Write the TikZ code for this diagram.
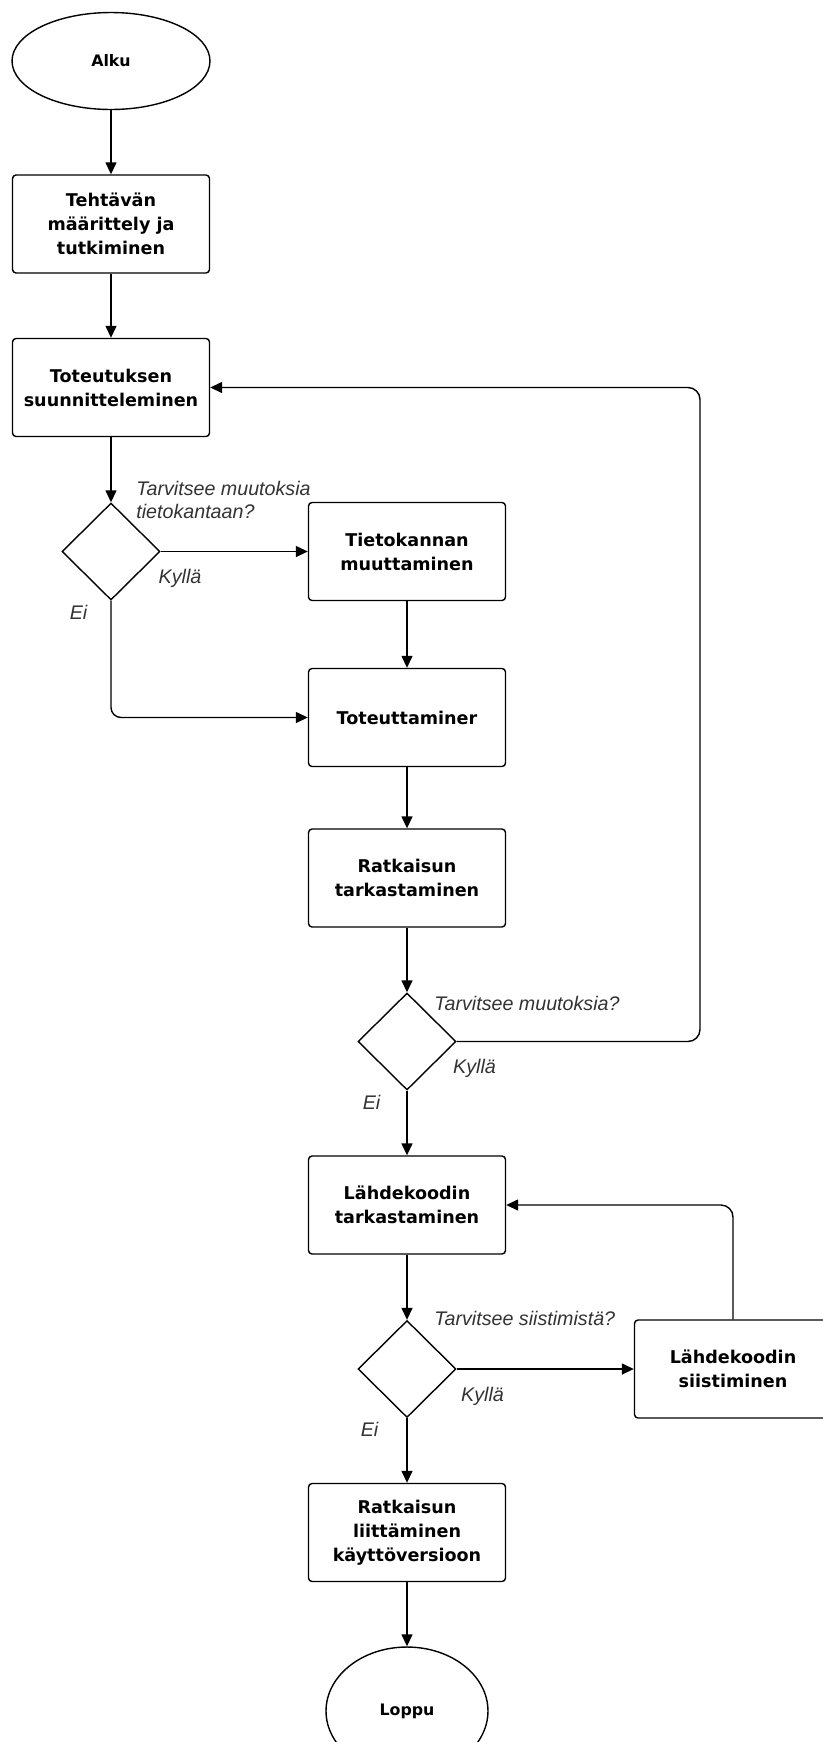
\documentclass[tikz,border=0pt]{standalone}
\usepackage{fontspec}
\usetikzlibrary{shapes.geometric, arrows.meta}
\newfontfamily\boxfont{DejaVu Sans}
\newfontfamily\labfont{Liberation Sans}

\begin{document}
\begin{tikzpicture}[x=0.02cm, y=-0.02cm,
  startnode/.style={draw, line width=0.8pt, ellipse, minimum width=3.96cm, minimum height=1.94cm, inner sep=0pt, font=\boxfont\bfseries\fontsize{9}{12}\selectfont},
  endnode/.style={draw, line width=0.8pt, ellipse, minimum width=3.24cm, minimum height=2.56cm, inner sep=0pt, font=\boxfont\bfseries\fontsize{9}{12}\selectfont},
  proc/.style={draw, line width=0.8pt, rounded corners=2pt, minimum width=3.94cm, minimum height=1.96cm, align=center, inner sep=2pt, font=\boxfont\bfseries\fontsize{10}{13.6}\selectfont},
  decide/.style={draw, line width=0.8pt, diamond, minimum width=1.96cm, minimum height=1.94cm, inner sep=0pt},
  flow/.style={line width=0.8pt, -{Triangle[length=0.24cm, width=0.22cm]}},
  lab/.style={text=black!80, inner sep=0pt, font=\labfont\itshape\fontsize{11.2}{13.6}\selectfont}
]
% Page frame (pixel coordinates)
\path[use as bounding box, fill=white] (0,0) rectangle (822,1742);

% Left column
\node[startnode] (alku) at (111,61) {Alku};
\node[proc] (teht) at (111,224) {Tehtävän\\määrittely ja\\tutkiminen};
\node[proc] (suun) at (111,387.5) {Toteutuksen\\suunnitteleminen};
\node[decide] (dia1) at (111,551.5) {};

% Middle column
\node[proc] (tieto) at (407,551.5) {Tietokannan\\muuttaminen};
\node[proc] (toteu) at (407,717.5) {Toteuttaminer};
\node[proc] (ratk) at (407,878) {Ratkaisun\\tarkastaminen};
\node[decide] (dia2) at (407,1041.5) {};
\node[proc] (lahde) at (407,1205) {Lähdekoodin\\tarkastaminen};
\node[decide] (dia3) at (407,1369) {};
\node[proc] (liit) at (407,1532.5) {Ratkaisun\\liittäminen\\käyttöversioon};
\node[endnode] (loppu) at (407,1711) {Loppu};

% Right column (cut by page edge)
\node[proc] (siisti) at (733,1369) {Lähdekoodin\\siistiminen};
\coordinate (loopR) at (700,387.5);

% Decision labels
\node[lab, anchor=west, align=left] (q1) at (136,500) {Tarvitsee muutoksia\\tietokantaan?};
\node[lab] (y1) at (180,578) {Kyllä};
\node[lab] (n1) at (78.5,612) {Ei};
\node[lab, anchor=west] (q2) at (434,1003) {Tarvitsee muutoksia?};
\node[lab] (y2) at (474.5,1068) {Kyllä};
\node[lab] (n2) at (371.5,1102) {Ei};
\node[lab, anchor=west] (q3) at (434,1318) {Tarvitsee siistimistä?};
\node[lab] (y3) at (482.5,1396) {Kyllä};
\node[lab] (n3) at (369.5,1429) {Ei};

% Connectors
\draw[flow] (alku) -- (teht);
\draw[flow] (teht) -- (suun);
\draw[flow] (suun) -- (dia1);
\draw[flow] (dia1) -- (tieto);
\draw[flow] (tieto) -- (toteu);
\draw[flow, rounded corners=0.2cm] (dia1.south) |- (toteu.west);
\draw[flow] (toteu) -- (ratk);
\draw[flow] (ratk) -- (dia2);
\draw[flow, rounded corners=0.24cm] (dia2.east) -| (loopR) -- (suun.east);
\draw[flow] (dia2) -- (lahde);
\draw[flow] (lahde) -- (dia3);
\draw[flow] (dia3) -- (siisti);
\draw[flow, rounded corners=0.24cm] (siisti.north) |- (lahde.east);
\draw[flow] (dia3) -- (liit);
\draw[flow] (liit) -- (loppu);
\end{tikzpicture}
\end{document}
